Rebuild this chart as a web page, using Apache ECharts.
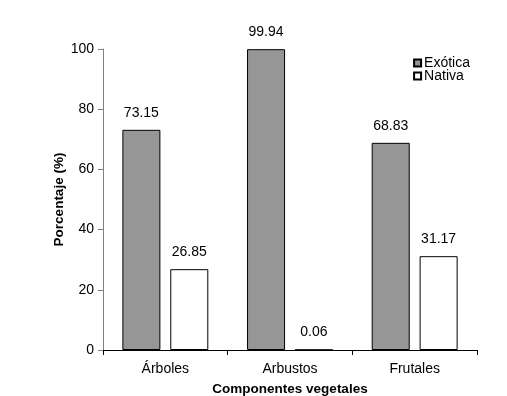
<!DOCTYPE html>
<html>
<head>
<meta charset="utf-8">
<script src="https://cdn.jsdelivr.net/npm/echarts@6/dist/echarts.min.js"></script>
<style>
  html, body { margin: 0; padding: 0; background: #fff; }
  #chart { width: 507px; height: 396px; }
</style>
</head>
<body>
<div id="chart"></div>
<script>
// datos del gráfico
var categorias = ["Árboles", "Arbustos", "Frutales"];
var exotica = [73.15, 99.94, 68.83];
var nativa = [26.85, 0.06, 31.17];
var yTicks = [0, 20, 40, 60, 80, 100];

var fuente = "'Liberation Sans', Arial, sans-serif";
var chart = echarts.init(document.getElementById("chart"));

var etiqueta = {
  show: true,
  position: "top",
  distance: 10,
  color: "#000",
  fontFamily: fuente,
  fontSize: 14,
  formatter: function (p) { return p.value.toFixed(2); }
};

var option = {
  animation: false,
  textStyle: { fontFamily: fuente },
  legend: {
    right: 32,
    top: 51,
    orient: "vertical",
    itemWidth: 7,
    itemHeight: 7,
    itemGap: -1,
    icon: "rect",
    textStyle: { color: "#000", fontSize: 14, fontFamily: fuente, padding: [0, 0, 0, -2] },
    data: ["Exótica", "Nativa"]
  },
  grid: { left: 103, right: 30, top: 49, bottom: 46, outerBoundsMode: "none", containLabel: false },
  xAxis: {
    type: "category",
    data: categorias,
    name: "Componentes vegetales",
    nameLocation: "middle",
    nameGap: 32,
    nameMoveOverlap: false,
    nameTextStyle: { color: "#000", fontWeight: "bold", fontSize: 13.5, fontFamily: fuente },
    axisLine: { lineStyle: { color: "#000", width: 1 } },
    axisTick: { show: true, length: 5, lineStyle: { color: "#000" } },
    axisLabel: { color: "#000", fontSize: 14, margin: 12, fontFamily: fuente }
  },
  yAxis: {
    type: "value",
    min: yTicks[0],
    max: yTicks[yTicks.length - 1],
    interval: 20,
    name: "Porcentaje (%)",
    nameLocation: "middle",
    nameGap: 37,
    nameMoveOverlap: false,
    nameTextStyle: { color: "#000", fontWeight: "bold", fontSize: 13.5, fontFamily: fuente },
    axisLine: { show: true, lineStyle: { color: "#808080", width: 1 } },
    axisTick: { show: true, length: 5, lineStyle: { color: "#808080" } },
    axisLabel: { color: "#000", fontSize: 14, margin: 9, fontFamily: fuente },
    splitLine: { show: false }
  },
  series: [
    {
      name: "Exótica",
      type: "bar",
      data: exotica,
      barWidth: "30.5%",
      barGap: "26%",
      itemStyle: { color: "#969696", borderColor: "#000", borderWidth: 1 },
      label: etiqueta
    },
    {
      name: "Nativa",
      type: "bar",
      data: nativa,
      barWidth: "30.5%",
      itemStyle: { color: "#fff", borderColor: "#000", borderWidth: 1 },
      label: etiqueta
    }
  ]
};

chart.setOption(option);
</script>
</body>
</html>
